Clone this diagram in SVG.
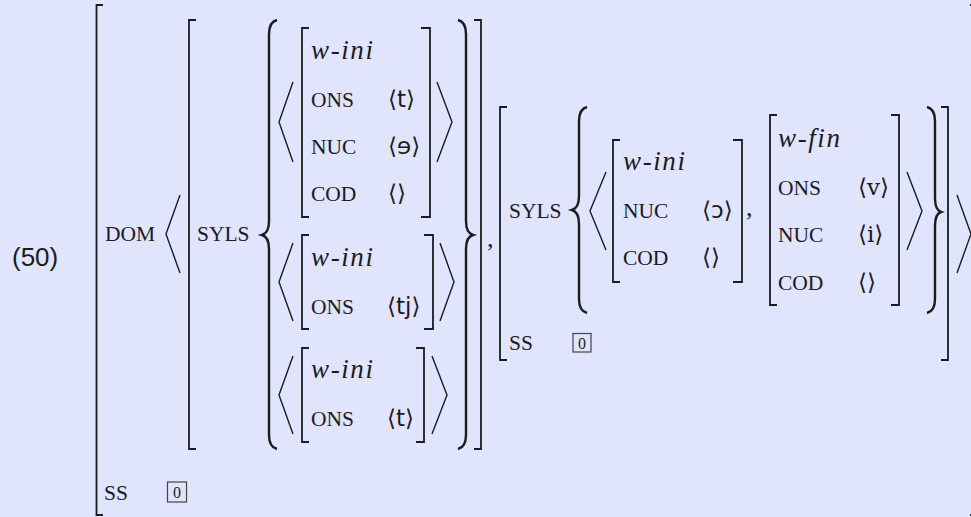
<svg xmlns="http://www.w3.org/2000/svg" width="971" height="517" viewBox="0 0 971 517">
<style>
.br{fill:none;stroke:#1c1c1c;stroke-width:1.8}
.ang{fill:none;stroke:#1c1c1c;stroke-width:1.4}
.brc{fill:none;stroke:#1c1c1c;stroke-width:2.4}
.sc{font-family:"Liberation Serif","DejaVu Serif",serif;font-size:21.5px;fill:#1c1c1c}
.it{font-family:"Liberation Serif","DejaVu Serif",serif;font-style:italic;font-size:27px;fill:#1c1c1c}
.v{font-family:"DejaVu Serif","Liberation Serif",serif;font-size:23px;fill:#1c1c1c}
.ipa{font-family:"DejaVu Sans","Noto Sans",sans-serif}
.lab{font-family:"Liberation Sans",Arial,sans-serif;font-size:26px;fill:#1c1c1c}
.box{fill:none;stroke:#444;stroke-width:1.2}
.num{font-family:"Liberation Serif",serif;font-size:16px;fill:#1c1c1c;text-anchor:middle}
.cm{font-family:"Liberation Serif",serif;font-size:26px;fill:#1c1c1c}
</style>
<rect width="971" height="517" fill="#e0e4fd"/>
<text class="lab" x="12" y="266">(50)</text>

<g id="outer-avm">
<path class="br" d="M103,5 H96.5 V515 H103"/>
<path class="br" d="M970,5 H977 V515 H970"/>
<text class="sc" x="105" y="241">DOM</text>
<path class="ang" d="M180,195 L166,234 L180,273"/>
<path class="ang" d="M957,195 L971,234 L957,273"/>
<text class="sc" x="104" y="500">SS</text>
<rect class="box" x="167.5" y="482" width="19" height="20"/>
<text class="num" x="177" y="498">0</text>
</g>

<g id="dom-element-1">
<path class="br" d="M196,20 H189 V449 H196"/>
<path class="br" d="M474,20 H481 V449 H474"/>
<text class="sc" x="197" y="241">SYLS</text>
<path class="brc" d="M277,20 Q269,22 269,34 V221 Q269,233 262,235 Q269,237 269,249 V435 Q269,447 277,449"/>
<path class="brc" d="M458,20 Q466,22 466,34 V221 Q466,233 473,235 Q466,237 466,249 V435 Q466,447 458,449"/>
</g>

<g id="syl-1-1">
<path class="br" d="M309,28 H302 V217 H309"/>
<path class="br" d="M421,28 H430 V217 H421"/>
<path class="ang" d="M293,82 L279,122 L293,162"/>
<path class="ang" d="M437,82 L452,122 L437,162"/>
<text class="it" x="311" y="59" textLength="62" lengthAdjust="spacing">w-ini</text>
<text class="sc" x="311" y="107">ONS</text>
<text class="sc" x="311" y="154">NUC</text>
<text class="sc" x="311" y="201">COD</text>
<text class="v" x="388" y="107">⟨<tspan class="ipa">t</tspan>⟩</text>
<text class="v" x="388" y="154">⟨<tspan class="ipa">ɘ</tspan>⟩</text>
<text class="v" x="388" y="201">⟨⟩</text>
</g>

<g id="syl-1-2">
<path class="br" d="M309,235 H302 V329 H309"/>
<path class="br" d="M424,235 H433 V329 H424"/>
<path class="ang" d="M293,243 L279,282 L293,321"/>
<path class="ang" d="M440,243 L454,282 L440,321"/>
<text class="it" x="311" y="266" textLength="62" lengthAdjust="spacing">w-ini</text>
<text class="sc" x="311" y="314">ONS</text>
<text class="v" x="387" y="314">⟨<tspan class="ipa">tj</tspan>⟩</text>
</g>

<g id="syl-1-3">
<path class="br" d="M309,348 H302 V442 H309"/>
<path class="br" d="M416,348 H424 V442 H416"/>
<path class="ang" d="M293,356 L279,395 L293,434"/>
<path class="ang" d="M432,356 L447,395 L432,434"/>
<text class="it" x="311" y="378" textLength="62" lengthAdjust="spacing">w-ini</text>
<text class="sc" x="311" y="426">ONS</text>
<text class="v" x="387" y="426">⟨<tspan class="ipa">t</tspan>⟩</text>
</g>

<text class="cm" x="487" y="247">,</text>

<g id="dom-element-2">
<path class="br" d="M507,107 H500 V360 H507"/>
<path class="br" d="M941,107 H948 V360 H941"/>
<text class="sc" x="509" y="218">SYLS</text>
<path class="brc" d="M587,107 Q579,109 579,121 V196 Q579,208 572,210 Q579,212 579,224 V299 Q579,311 587,313"/>
<path class="brc" d="M927,107 Q935,109 935,121 V198 Q935,210 941,212 Q935,214 935,226 V299 Q935,311 927,313"/>
<path class="ang" d="M606,172 L590,211 L606,250"/>
<path class="ang" d="M907,172 L922,211 L907,250"/>
<text class="sc" x="509" y="350">SS</text>
<rect class="box" x="573" y="333.5" width="18" height="18.5"/>
<text class="num" x="582" y="349">0</text>
</g>

<g id="syl-2-1">
<path class="br" d="M620,140 H613 V282 H620"/>
<path class="br" d="M733,140 H742 V282 H733"/>
<text class="it" x="623" y="170" textLength="62" lengthAdjust="spacing">w-ini</text>
<text class="sc" x="623" y="218">NUC</text>
<text class="sc" x="623" y="265">COD</text>
<text class="v" x="702" y="218">⟨<tspan class="ipa">ɔ</tspan>⟩</text>
<text class="v" x="702" y="265">⟨⟩</text>
</g>

<text class="cm" x="746" y="216">,</text>

<g id="syl-2-2">
<path class="br" d="M777,115 H770 V305 H777"/>
<path class="br" d="M891,115 H899 V305 H891"/>
<text class="it" x="778" y="147" textLength="62" lengthAdjust="spacing">w-fin</text>
<text class="sc" x="778" y="195">ONS</text>
<text class="sc" x="778" y="242">NUC</text>
<text class="sc" x="778" y="290">COD</text>
<text class="v" x="858" y="195">⟨v⟩</text>
<text class="v" x="858" y="242">⟨i⟩</text>
<text class="v" x="858" y="290">⟨⟩</text>
</g>
</svg>
